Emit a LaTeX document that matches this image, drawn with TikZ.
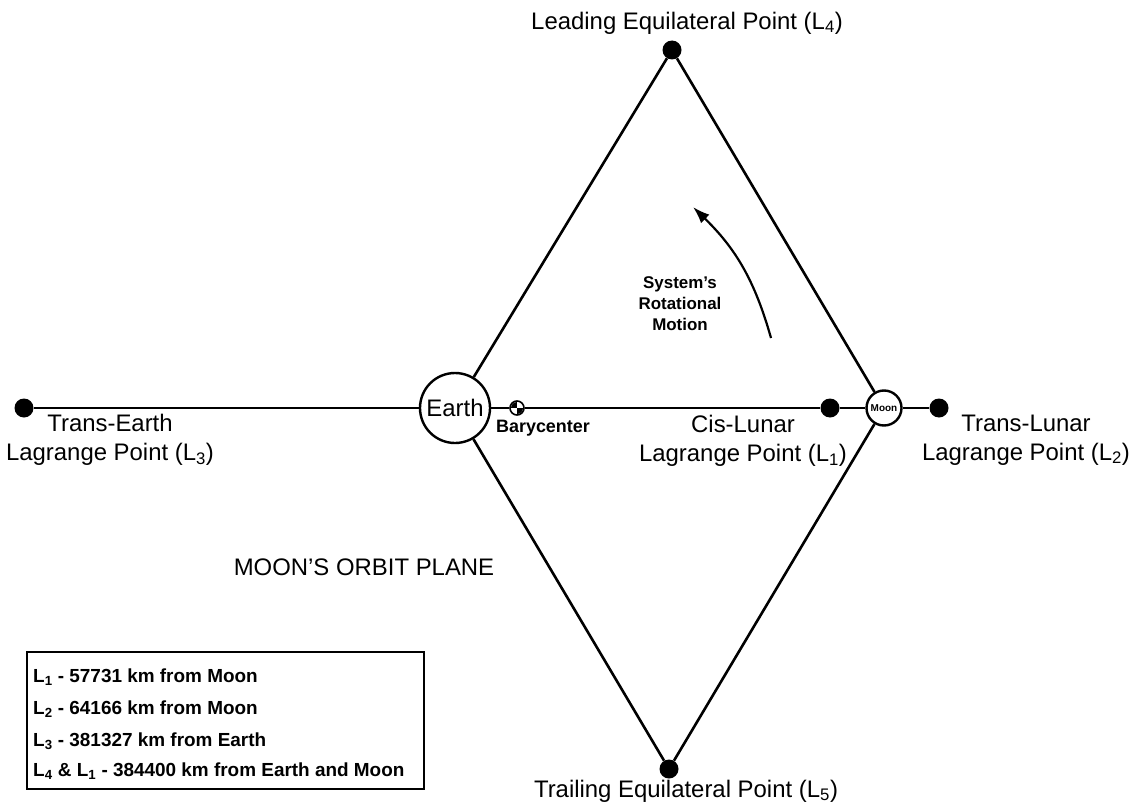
\documentclass[tikz,border=0pt]{standalone}
\usepackage{fontspec}
\setmainfont{Liberation Sans}
\usetikzlibrary{arrows.meta}
\tikzset{
  lpoint/.style={circle, fill, inner sep=0pt, minimum size=19bp},
  body/.style={circle, draw, line width=2.4bp, fill=white, inner sep=0pt},
  lbl/.style={font=\fontsize{24}{29}\selectfont, align=center, inner sep=0pt},
  small/.style={font=\bfseries\fontsize{17}{21}\selectfont, align=center, inner sep=0pt},
  legtext/.style={font=\bfseries\fontsize{19}{22}\selectfont, anchor=west, inner sep=0pt},
  orbit/.style={line width=2.6bp}
}
\newcommand{\Lp}[1]{L\textsubscript{#1}}

\begin{document}
\begin{tikzpicture}[x=1bp, y=-1bp]
  \useasboundingbox (0,0) rectangle (1130,803);
  % Lagrange points
  \foreach \n/\x/\y in {L3/24/408, L1/830/408, L2/939/408, L4/672/50, L5/669/769}{
    \node[lpoint] (\n) at (\x,\y) {};
  }
  \node[body, minimum size=70bp, font=\fontsize{24}{24}\selectfont] (Earth) at (455,408) {Earth};
  \node[body, minimum size=35bp, font=\bfseries\fontsize{10}{10}\selectfont] (Moon) at (884,408) {Moon};
  \node[circle, draw, line width=1.6bp, fill=white, inner sep=0pt, minimum size=14bp] (Bary) at (517,408) {};
  \begin{scope}
    \clip (Bary.center) circle[radius=6bp];
    \fill (Bary.center) rectangle ++(-8bp,8bp);
    \fill (Bary.center) rectangle ++(8bp,-8bp);
  \end{scope}
  \foreach \a/\b in {L3/Earth, Earth/Bary, Bary/L1, L1/Moon, Moon/L2, L4/Earth, L4/Moon, Earth/L5, Moon/L5}{
    \draw[orbit] (\a) -- (\b);
  }
  % labels
  \node[lbl] (L4lbl) at (687,23) {Leading Equilateral Point (\Lp{4})};
  \node[lbl] (L5lbl) at (686,791) {Trailing Equilateral Point (\Lp{5})};
  \node[lbl] (L3lbl) at (110,440) {Trans-Earth\\Lagrange Point (\Lp{3})};
  \node[lbl] (L1lbl) at (743,441) {Cis-Lunar\\Lagrange Point (\Lp{1})};
  \node[lbl] (L2lbl) at (1026,440) {Trans-Lunar\\Lagrange Point (\Lp{2})};
  \node[small, font=\bfseries\fontsize{18}{18}\selectfont] (Barylbl) at (543,428) {Barycenter};
  \node[small] (Rotlbl) at (680,304) {System's\\Rotational\\Motion};
  \node[lbl] (Planelbl) at (364,567) {MOON'S ORBIT PLANE};
  % rotation arrow
  \coordinate (RotTail) at (771,338);
  \coordinate (RotHead) at (693,207);
  \draw[line width=2.2bp, -{Latex[length=17bp, width=12bp]}] (RotTail) to[bend right=15] (RotHead);
  % distances
  \draw[line width=2bp] (27,652) rectangle (424,789);
  \foreach \y/\t in {677/{\Lp{1} - 57731 km from Moon}, 709/{\Lp{2} - 64166 km from Moon},
                     741/{\Lp{3} - 381327 km from Earth}, 771/{\Lp{4} \& \Lp{1} - 384400 km from Earth and Moon}}{
    \node[legtext] (Leg\y) at (33,\y) {\t};
  }
\end{tikzpicture}
\end{document}
